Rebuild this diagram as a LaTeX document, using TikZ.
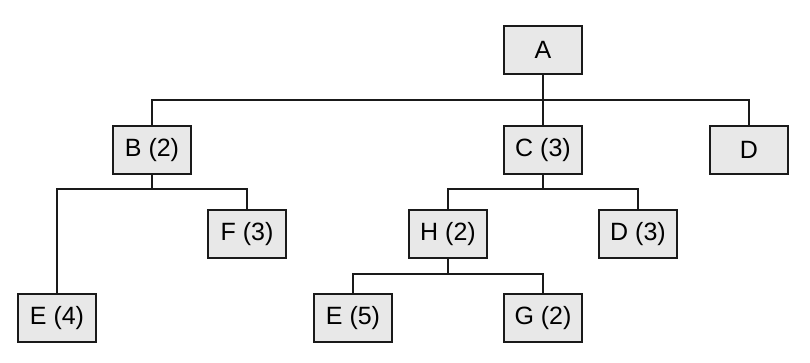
\documentclass[tikz,border=0pt]{standalone}
\usepackage{fontspec}
\setmainfont{Liberation Sans}
\definecolor{boxfill}{HTML}{E8E8E8}
\definecolor{ink}{HTML}{1A1A1A}
\begin{document}
\begin{tikzpicture}[x=1pt,y=-1pt,
  tbox/.style={draw=ink,fill=boxfill,line width=1.8pt,minimum width=78pt,minimum height=48pt,inner sep=0pt,font=\fontsize{25}{28}\selectfont},
  conn/.style={draw=ink,line width=1.8pt}]
\useasboundingbox (0,0) rectangle (810,363);
\node[tbox] (A) at (543,50) {A};
\node[tbox] (B) at (152,150) {B (2)};
\node[tbox] (C) at (543,150) {C (3)};
\node[tbox] (D) at (749,150) {D};
\node[tbox] (F) at (247,234) {F (3)};
\node[tbox] (H) at (448,234) {H (2)};
\node[tbox] (D3) at (638,234) {D (3)};
\node[tbox] (E4) at (57,318) {E (4)};
\node[tbox] (E5) at (353,318) {E (5)};
\node[tbox] (G) at (543,318) {G (2)};
\path[conn] (A.south) -- (A.south |- 0,100) coordinate (a1);
\path[conn] (B.north) |- (D.north |- 0,100) -- (D.north);
\path[conn] (a1) -- (C.north);
\path[conn] (B.south) -- (B.south |- 0,189) coordinate (b1);
\path[conn] (E4.north) |- (F.north |- 0,189) -- (F.north);
\path[conn] (C.south) -- (C.south |- 0,189) coordinate (c1);
\path[conn] (H.north) |- (D3.north |- 0,189) -- (D3.north);
\path[conn] (H.south) -- (H.south |- 0,274) coordinate (h1);
\path[conn] (E5.north) |- (G.north |- 0,274) -- (G.north);
\end{tikzpicture}
\end{document}
